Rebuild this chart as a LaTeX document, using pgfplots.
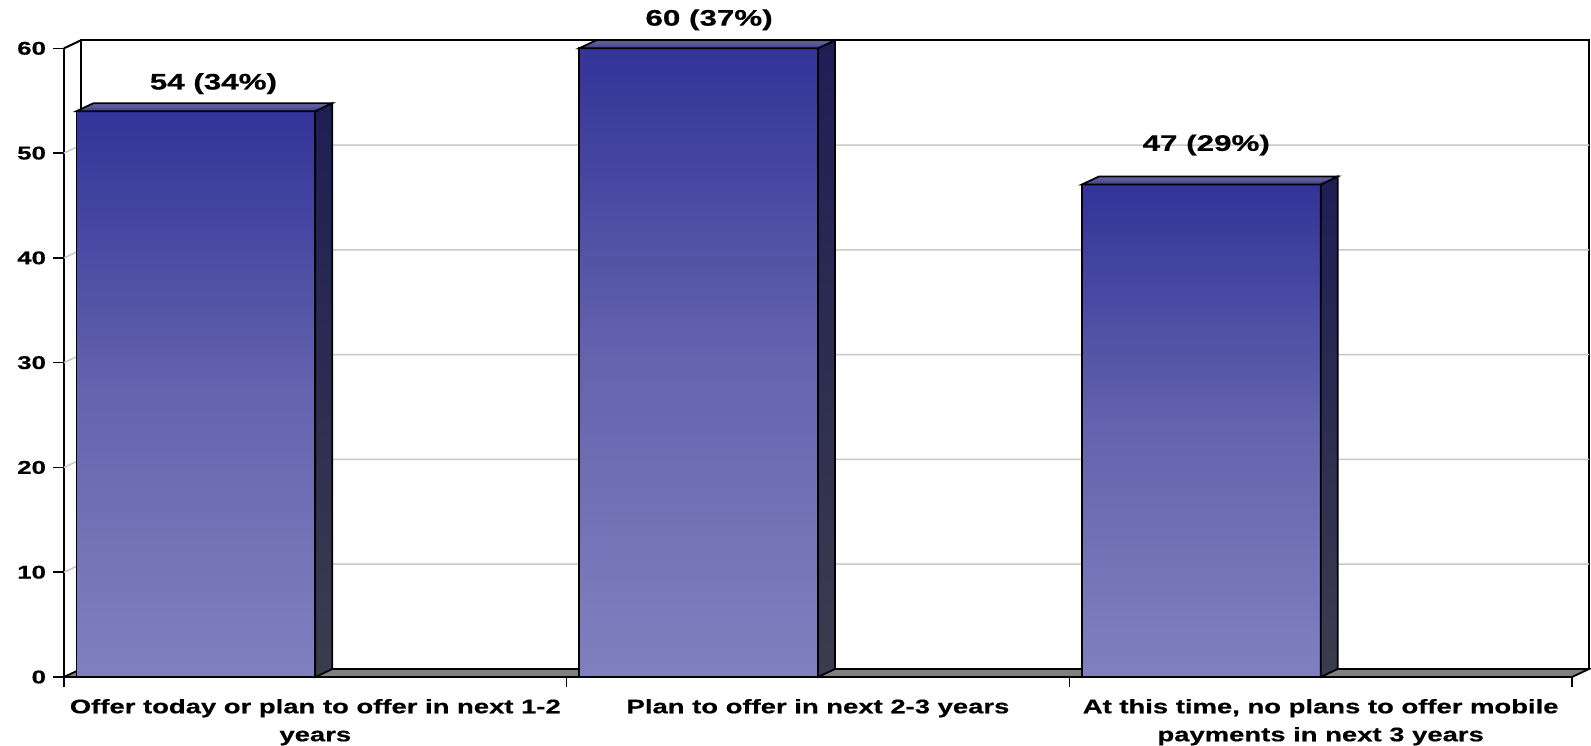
\documentclass[border=0pt]{standalone}
\usepackage{pgfplots}
\pgfplotsset{compat=1.18}
\usepackage{pgfplotstable}
\usepackage{fontspec}
\setmainfont{Liberation Sans}[FakeStretch=1.4, BoldFeatures={FakeBold=0.6}]

\definecolor{barTop}{HTML}{333399}
\definecolor{barMid}{HTML}{6464AE}
\definecolor{barBot}{HTML}{8080C0}
\definecolor{sideTop}{HTML}{1E1E55}
\definecolor{sideBot}{HTML}{3C3C4E}
\definecolor{capBack}{HTML}{6A6AA6}
\definecolor{capFront}{HTML}{3C3C8A}
\definecolor{floorGray}{HTML}{808080}
\definecolor{gridGray}{HTML}{C8C8C8}

% responses per answer, share of all respondents, label offsets (pt)
\pgfplotstableread{
x v  pct lx   ly
0 54 34  8.75 13.75
1 60 37  5.25 14.25
2 47 29  2.5  19.75
}\bardata

% depth of the 3D effect in axis units (8.5pt to the right, 4pt up)
\newcommand\dX{0.0338}
\newcommand\dY{0.7635}

\pgfplotsset{
  frontface/.style={draw=black, line width=0.9pt, top color=barTop, bottom color=barBot, middle color=barMid},
  sideface/.style={draw=black, line width=0.9pt, top color=sideTop, bottom color=sideBot},
  topface/.style={draw=black, line width=0.9pt, top color=capBack, bottom color=capFront},
}

\begin{document}
\begin{tikzpicture}
\path[use as bounding box] (0,0) rectangle (795.5pt,372.5pt);
\begin{axis}[
  at={(32pt,34pt)}, anchor=south west,
  scale only axis, width=754pt, height=314.35pt,
  xmin=0, xmax=3, ymin=0, ymax=60,
  clip=false,
  axis x line*=bottom, axis y line*=left,
  axis line style={line width=1pt, -},
  tick align=outside,
  major tick length=5.5pt, minor tick length=5pt,
  tick style={line width=0.75pt, black},
  ytick={0,10,...,60},
  xtick={0.5,1.5,2.5},
  minor xtick={0,1,2,3},
  major x tick style={draw=none},
  xticklabels={{Offer today or plan to offer in next 1-2\\years},
               {Plan to offer in next 2-3 years},
               {At this time, no plans to offer mobile\\payments in next 3 years}},
  xticklabel style={align=center, font=\bfseries\fontsize{9.8}{14}\selectfont, yshift=-2pt},
  yticklabel style={font=\bfseries\fontsize{9.2}{11}\selectfont},
  /pgf/number format/assume math mode=true,
]

% back wall with its grid lines
\draw[line width=1pt, fill=white] (axis cs:0,0) ++(8.5pt,4pt) rectangle ++(754pt,314.35pt);
\pgfplotsinvokeforeach{10,20,30,40,50}{
  \draw[gridGray, line width=0.75pt] (axis cs:0,#1) -- ++(8.5pt,4pt) -- ++(754pt,0pt);
}
\draw[line width=1pt] (axis cs:0,60) -- ++(8.5pt,4pt);

% floor
\draw[fill=floorGray, line width=0.9pt] (axis cs:0,0) -- ++(754pt,0pt) -- ++(8.5pt,4pt)
  -- ++(-754pt,0pt) -- cycle;

% each bar as its own front, side and top face, so each gets its own gradient
\pgfplotsinvokeforeach{0,1,2}{%
  \pgfplotstablegetelem{#1}{v}\of\bardata
  \let\barV\pgfplotsretval
  \pgfmathsetmacro\xL{#1+0.025}%
  \pgfmathsetmacro\xR{#1+0.5}%
  \pgfmathsetmacro\xLb{\xL+\dX}%
  \pgfmathsetmacro\xRb{\xR+\dX}%
  \pgfmathsetmacro\vB{\barV+\dY}%
  \edef\drawfaces{%
    \noexpand\addplot[frontface] coordinates {(\xL,0) (\xR,0) (\xR,\barV) (\xL,\barV)} -- cycle;
    \noexpand\addplot[sideface] coordinates {(\xR,0) (\xRb,\dY) (\xRb,\vB) (\xR,\barV)} -- cycle;
    \noexpand\addplot[topface] coordinates {(\xL,\barV) (\xR,\barV) (\xRb,\vB) (\xLb,\vB)} -- cycle;
  }%
  \drawfaces
}

% value labels above the bars
\addplot[ybar, bar width=0.475, bar shift=0, draw=none, fill=none,
  point meta=y,
  visualization depends on={\thisrow{pct} \as \pctval},
  visualization depends on={\thisrow{lx} \as \labx},
  visualization depends on={\thisrow{ly} \as \laby},
  nodes near coords={\pgfmathprintnumber{\pgfplotspointmeta} (\pgfmathprintnumber{\pctval}\%)},
  every node near coord/.append style={anchor=center, text=black,
    xshift=\labx pt, yshift=\laby pt,
    font=\bfseries\fontsize{11.2}{13}\selectfont},
] table[x expr=\thisrow{x}+0.2625, y=v] {\bardata};
\end{axis}
\end{tikzpicture}
\end{document}
